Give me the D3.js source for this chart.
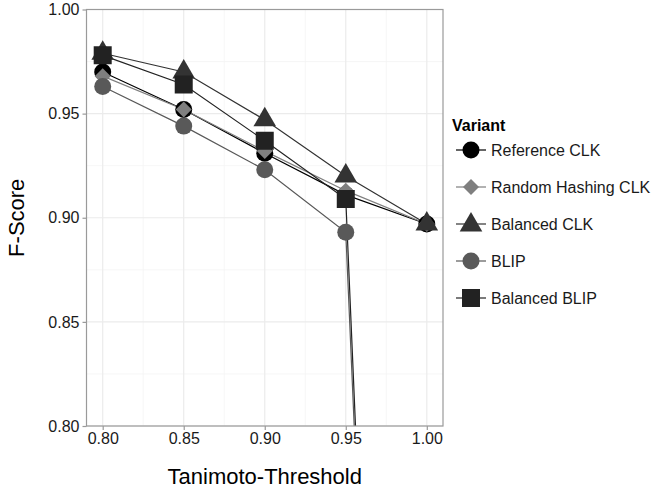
<!DOCTYPE html>
<html>
<head>
<meta charset="utf-8">
<script src="https://cdn.jsdelivr.net/npm/d3@7"></script>
<style>
  body { margin: 0; background: #fff; }
  text { font-family: "Liberation Sans", Arial, sans-serif; }
</style>
</head>
<body>
<div id="root"></div>
<script>
const thresholds = [0.8, 0.85, 0.9, 0.95, 1.0];
const variants = ["Reference CLK", "Random Hashing CLK", "Balanced CLK", "BLIP", "Balanced BLIP"];
const referenceClk = [0.970, 0.952, 0.931, 0.911, 0.897];
const randomHashingClk = [0.968, 0.952, 0.932, 0.913, 0.897];
const balancedClk = [0.979, 0.970, 0.947, 0.920, 0.897];
const blip = [0.963, 0.944, 0.923, 0.893, 0.0];
const balancedBlip = [0.978, 0.964, 0.937, 0.909, 0.0];
const xTicks = [0.8, 0.85, 0.9, 0.95, 1.0];
const yTicks = [0.8, 0.85, 0.9, 0.95, 1.0];

const seriesValues = [referenceClk, randomHashingClk, balancedClk, blip, balancedBlip];
const colors = ["#000000", "#7f7f7f", "#333333", "#595959", "#222222"];
const shapes = ["circle", "diamond", "triangle", "circle", "square"];

const width = 654;
const height = 493;
const pLeft = 86.5, pRight = 443, pTop = 9.5, pBottom = 426;

const xScale = d3.scaleLinear().domain([0.79, 1.01]).range([pLeft, pRight]);
const yScale = d3.scaleLinear().domain([0.8, 1.0]).range([pBottom, pTop]);

// marker outlines, sizes
const markerPath = (shape) => {
  const p = d3.path();
  if (shape === "circle") {
    p.arc(0, 0, 8.5, 0, 2 * Math.PI);
  } else if (shape === "square") {
    p.rect(-9, -9, 18, 18);
  } else if (shape === "diamond") {
    p.moveTo(0, -8); p.lineTo(8, 0); p.lineTo(0, 8); p.lineTo(-8, 0); p.closePath();
  } else {
    p.moveTo(0, -13); p.lineTo(11.3, 6.5); p.lineTo(-11.3, 6.5); p.closePath();
  }
  return p.toString();
};

const series = variants.map((name, i) => ({
  name,
  color: colors[i],
  shape: shapes[i],
  points: thresholds.map((t, j) => ({ x: t, y: seriesValues[i][j] }))
}));

const svg = d3
  .select("#root")
  .append("svg")
  .attr("width", width)
  .attr("height", height);

svg.append("defs").append("clipPath").attr("id", "panel")
  .append("rect")
  .attr("x", pLeft).attr("y", pTop)
  .attr("width", pRight - pLeft).attr("height", pBottom - pTop);

// grid: minor first, then major
const minorX = d3.range(0, 4).map((i) => 0.825 + i * 0.05);
const minorY = d3.range(0, 4).map((i) => 0.825 + i * 0.05);

const grid = svg.append("g");
grid.selectAll(".minor-x").data(minorX).enter().append("line")
  .attr("x1", (d) => xScale(d)).attr("x2", (d) => xScale(d))
  .attr("y1", pTop).attr("y2", pBottom)
  .attr("stroke", "#f4f4f4").attr("stroke-width", 0.8);
grid.selectAll(".minor-y").data(minorY).enter().append("line")
  .attr("y1", (d) => yScale(d)).attr("y2", (d) => yScale(d))
  .attr("x1", pLeft).attr("x2", pRight)
  .attr("stroke", "#f4f4f4").attr("stroke-width", 0.8);
grid.selectAll(".major-x").data(xTicks).enter().append("line")
  .attr("x1", (d) => xScale(d)).attr("x2", (d) => xScale(d))
  .attr("y1", pTop).attr("y2", pBottom)
  .attr("stroke", "#ebebeb").attr("stroke-width", 1.2);
grid.selectAll(".major-y").data(yTicks).enter().append("line")
  .attr("y1", (d) => yScale(d)).attr("y2", (d) => yScale(d))
  .attr("x1", pLeft).attr("x2", pRight)
  .attr("stroke", "#ebebeb").attr("stroke-width", 1.2);

const line = d3.line().x((d) => xScale(d.x)).y((d) => yScale(d.y));

const plot = svg.append("g").attr("clip-path", "url(#panel)");

plot.selectAll(".series-line").data(series).enter().append("path")
  .attr("d", (d) => line(d.points))
  .attr("fill", "none")
  .attr("stroke", (d) => d.color)
  .attr("stroke-width", 1.2);

series.forEach((s) => {
  plot.selectAll(null).data(s.points).enter().append("path")
    .attr("d", markerPath(s.shape))
    .attr("transform", (d) => `translate(${xScale(d.x)},${yScale(d.y)})`)
    .attr("fill", s.color);
});

// panel border
svg.append("rect")
  .attr("x", pLeft).attr("y", pTop)
  .attr("width", pRight - pLeft).attr("height", pBottom - pTop)
  .attr("fill", "none")
  .attr("stroke", "#9a9a9a")
  .attr("stroke-width", 1.2);

const xAxis = d3.axisBottom(xScale).tickValues(xTicks).tickSize(4).tickPadding(3).tickFormat(d3.format(".2f"));
const yAxis = d3.axisLeft(yScale).tickValues(yTicks).tickSize(4).tickPadding(3).tickFormat(d3.format(".2f"));

const gx = svg.append("g").attr("transform", `translate(0,${pBottom})`).call(xAxis);
const gy = svg.append("g").attr("transform", `translate(${pLeft},0)`).call(yAxis);

[gx, gy].forEach((g) => {
  g.select(".domain").remove();
  g.selectAll(".tick line").attr("stroke", "#9a9a9a").attr("stroke-width", 1.2);
  g.selectAll(".tick text")
    .attr("fill", "#1a1a1a")
    .style("font-size", "16px")
    .style("font-family", "'Liberation Sans', Arial, sans-serif");
});

svg.append("text")
  .attr("x", (pLeft + pRight) / 2)
  .attr("y", 484)
  .attr("text-anchor", "middle")
  .style("font-size", "22px")
  .attr("fill", "#000")
  .text("Tanimoto-Threshold");

svg.append("text")
  .attr("transform", `translate(24,${(pTop + pBottom) / 2}) rotate(-90)`)
  .attr("text-anchor", "middle")
  .style("font-size", "22px")
  .attr("fill", "#000")
  .text("F-Score");

// legend
const legend = svg.append("g");
legend.append("text")
  .attr("x", 452).attr("y", 131)
  .style("font-size", "16px")
  .style("font-weight", "bold")
  .attr("fill", "#000")
  .text("Variant");

const rows = legend.selectAll(".row").data(series).enter().append("g")
  .attr("transform", (d, i) => `translate(0,${150 + i * 37})`);

rows.append("line")
  .attr("x1", 456).attr("x2", 486)
  .attr("y1", 0).attr("y2", 0)
  .attr("stroke", (d) => d.color)
  .attr("stroke-width", 1.2);
rows.append("path")
  .attr("d", (d) => markerPath(d.shape))
  .attr("transform", (d) => `translate(471,${d.shape === "triangle" ? 1 : 0})`)
  .attr("fill", (d) => d.color);
rows.append("text")
  .attr("x", 491).attr("y", 0).attr("dy", "0.36em")
  .style("font-size", "16px")
  .attr("fill", "#1a1a1a")
  .text((d) => d.name);
</script>
</body>
</html>
